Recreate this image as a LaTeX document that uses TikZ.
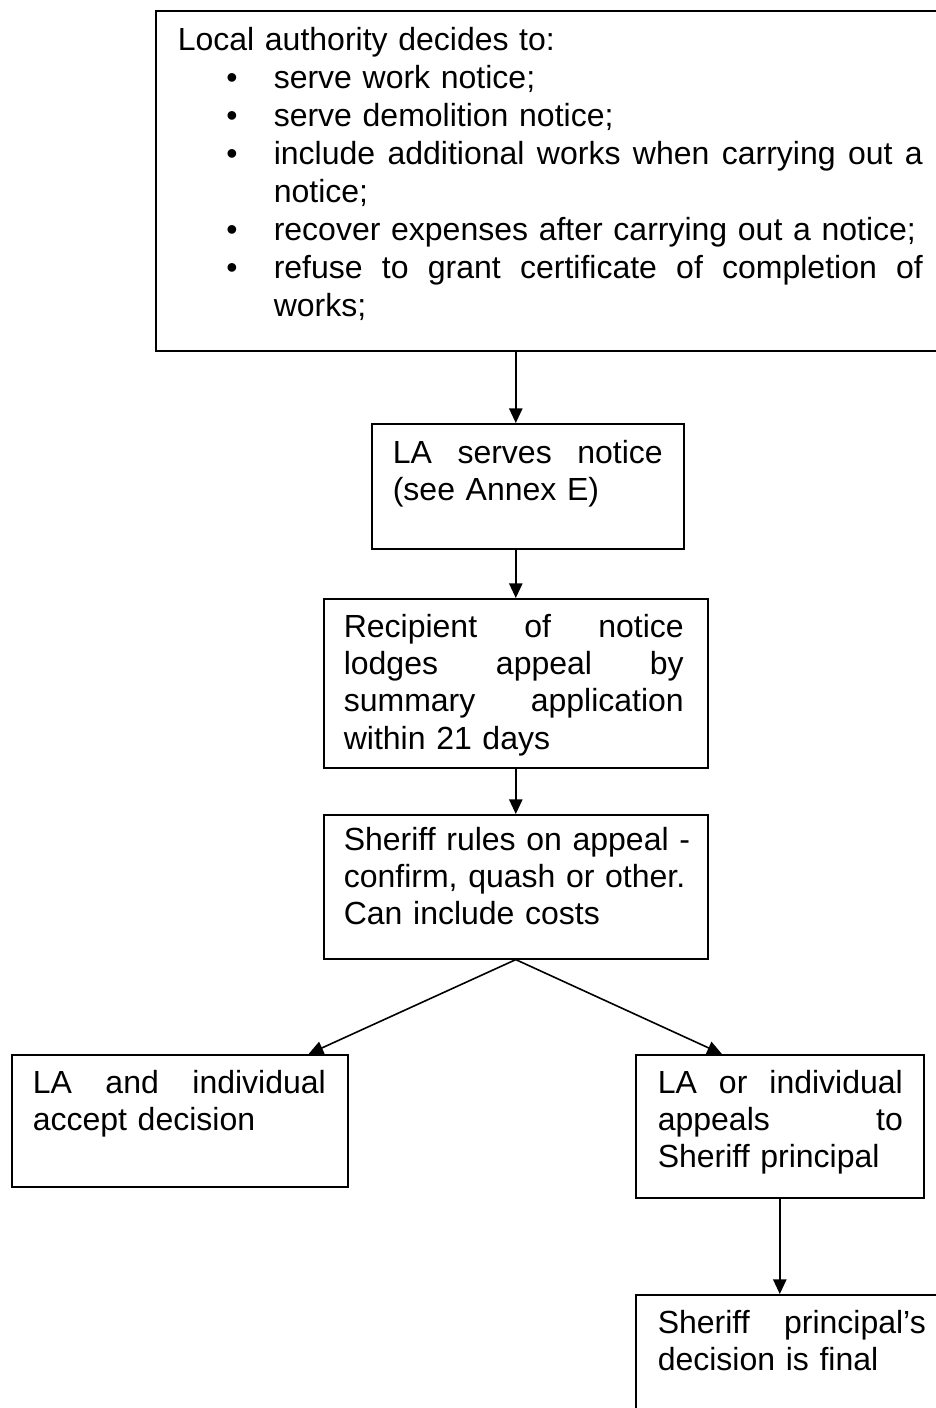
\documentclass[tikz,border=0pt]{standalone}
\usepackage{fontspec}
\setmainfont{Liberation Sans}
\usetikzlibrary{arrows.meta}
\newcommand{\fillline}[1]{\makebox[\linewidth][s]{#1}}
\newcommand{\bulletitem}{\hspace*{18.2pt}\makebox[17.8pt][l]{\textbullet}}

\begin{document}
\begin{tikzpicture}[x = 0.375pt, y = -0.375pt, line width = 0.6pt,
    box/.style = {draw, inner sep = 0pt, anchor = north west},
    boxtext/.style = {anchor = base west, inner sep = 0pt, align = left,
      font = \fontsize{12}{14}\selectfont},
    >={Triangle[width = 5pt, length = 5.5pt]}]
        \useasboundingbox (0, 0) rectangle (936, 1408);

        % boxes
        \node [box, minimum width = 296.25pt, minimum height = 127.5pt] (decide) at (155, 10) {};
        \node [box, minimum width = 117pt, minimum height = 46.875pt] (serve) at (371, 423) {};
        \node [box, minimum width = 144pt, minimum height = 63.375pt] (lodge) at (323, 598) {};
        \node [box, minimum width = 144pt, minimum height = 54pt] (rule) at (323, 814) {};
        \node [box, minimum width = 126pt, minimum height = 49.5pt] (accept) at (11, 1054) {};
        \node [box, minimum width = 108pt, minimum height = 53.625pt] (further) at (635, 1054) {};
        \node [box, minimum width = 120pt, minimum height = 48.75pt] (final) at (635, 1294) {};

        % texts
        \node [boxtext, text width = 279.4pt, font = \fontsize{12}{14.3}\selectfont] (decide-text) at (177, 50) {%
          Local authority decides to:\\
          \bulletitem serve work notice;\\
          \bulletitem serve demolition notice;\\
          \bulletitem\makebox[243.4pt][s]{include\hfill additional\hfill works\hfill when\hfill carrying\hfill out\hfill a}\\
          \hspace*{36pt}notice;\\
          \bulletitem recover expenses after carrying out a notice;\\
          \bulletitem\makebox[243.4pt][s]{refuse\hfill to\hfill grant\hfill certificate\hfill of\hfill completion\hfill of}\\
          \hspace*{36pt}works;};
        \node [boxtext, text width = 101.25pt] (serve-text) at (392, 463)
          {\fillline{LA\hfill serves\hfill notice}\\ (see Annex E)};
        \node [boxtext, text width = 127.5pt] (lodge-text) at (343, 637)
          {\fillline{Recipient\hfill of\hfill notice}\\ \fillline{lodges\hfill appeal\hfill by}\\
           \fillline{summary\hfill application}\\ within 21 days};
        \node [boxtext, text width = 130pt] (rule-text) at (343, 850)
          {Sheriff rules on appeal -\\ confirm, quash or other.\\ Can include costs};
        \node [boxtext, text width = 109.9pt] (accept-text) at (32, 1093)
          {\fillline{LA\hfill and\hfill individual}\\ accept decision};
        \node [boxtext, text width = 91.9pt] (further-text) at (657, 1093)
          {\fillline{LA\hfill or\hfill individual}\\ \fillline{appeals\hfill to}\\ Sheriff principal};
        \node [boxtext, text width = 100.5pt] (final-text) at (657, 1333)
          {\fillline{Sheriff\hfill principal's}\\ decision is final};

        % connectors
        \draw [->] (decide.south -| lodge.north) -- (serve.north -| lodge.north);
        \draw [->] (serve.south -| lodge.north) -- (lodge.north);
        \draw [->] (lodge.south) -- (rule.north);
        \draw [->] (rule.south) -- ([xshift = -15pt] accept.north east);
        \draw [->] (rule.south) -- ([xshift = 32.6pt] further.north west);
        \draw [->] (further.south) -- (further.south |- final.north);
\end{tikzpicture}
\end{document}
